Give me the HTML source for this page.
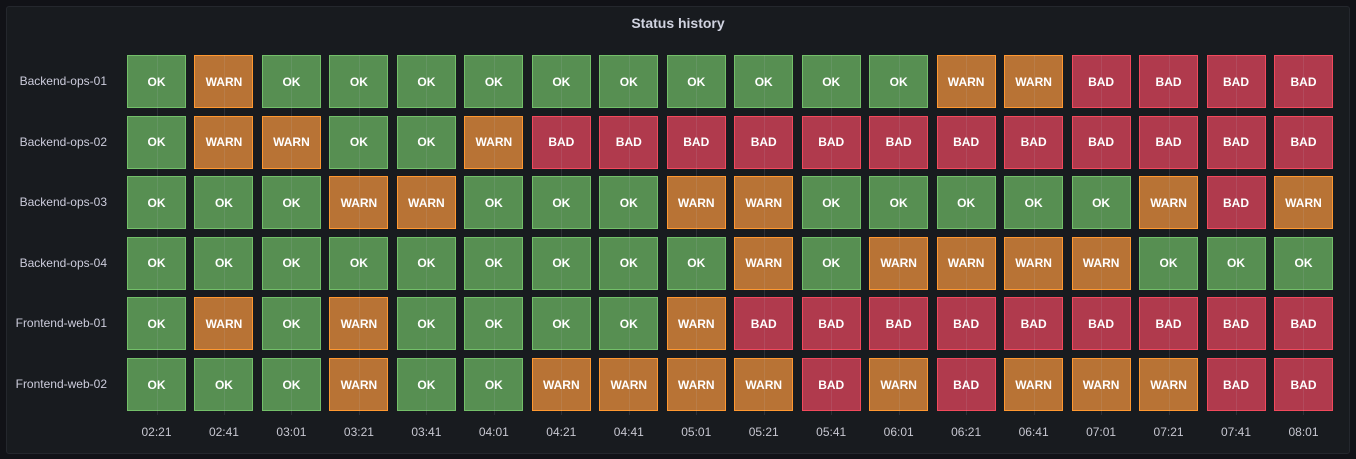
<!DOCTYPE html><html><head><style>
body{margin:0;width:1356px;height:459px;background:#111217;font-family:"Liberation Sans",sans-serif;overflow:hidden;position:relative}
#p{position:absolute;left:6px;top:6px;width:1342px;height:446px;background:#181b1f;border:1px solid #24272d;border-radius:3px}
.t{position:absolute;top:15px;left:0;width:1356px;text-align:center;color:#d0d3e0;font-size:14px;font-weight:bold}
.c{position:absolute;box-sizing:border-box;width:59px;height:53px;color:#fff;font-size:12px;font-weight:bold;display:flex;align-items:center;justify-content:center}
.OK{background:#578f52;border:1px solid #73bf69}
.WARN{background:#b87335;border:1px solid #ff9830}
.BAD{background:#b03a4d;border:1px solid #f2495c}
.l{position:absolute;right:1249px;color:#ccccdc;font-size:12px;white-space:nowrap}
.x{position:absolute;top:425px;width:60px;text-align:center;color:#c7c7d1;font-size:12px}
.g{position:absolute;top:55px;width:1px;height:360px;background:rgba(200,200,210,0.12)}
</style></head><body><div id="p"></div><div class="t">Status history</div>
<script>
var names=["Backend-ops-01","Backend-ops-02","Backend-ops-03","Backend-ops-04","Frontend-web-01","Frontend-web-02"];
var O="OK",W="WARN",B="BAD";
var d=[[O,W,O,O,O,O,O,O,O,O,O,O,W,W,B,B,B,B],
[O,W,W,O,O,W,B,B,B,B,B,B,B,B,B,B,B,B],
[O,O,O,W,W,O,O,O,W,W,O,O,O,O,O,W,B,W],
[O,O,O,O,O,O,O,O,O,W,O,W,W,W,W,O,O,O],
[O,W,O,W,O,O,O,O,W,B,B,B,B,B,B,B,B,B],
[O,O,O,W,O,O,W,W,W,W,B,W,B,W,W,W,B,B]];
var t=["02:21","02:41","03:01","03:21","03:41","04:01","04:21","04:41","05:01","05:21","05:41","06:01","06:21","06:41","07:01","07:21","07:41","08:01"];
var h="";
for(var i=0;i<6;i++){var y=55+i*60.6;h+='<div class="l" style="top:'+(y+19)+'px">'+names[i]+'</div>';
for(var j=0;j<18;j++){h+='<div class="c '+d[i][j]+'" style="left:'+(127+j*67.47)+'px;top:'+y+'px">'+d[i][j]+'</div>';}}
for(var j=0;j<18;j++){var cx=156.5+j*67.47;h+='<div class="g" style="left:'+Math.round(cx)+'px"></div><div class="x" style="left:'+(cx-30)+'px">'+t[j]+'</div>';}
document.body.insertAdjacentHTML('beforeend',h);
</script></body></html>
